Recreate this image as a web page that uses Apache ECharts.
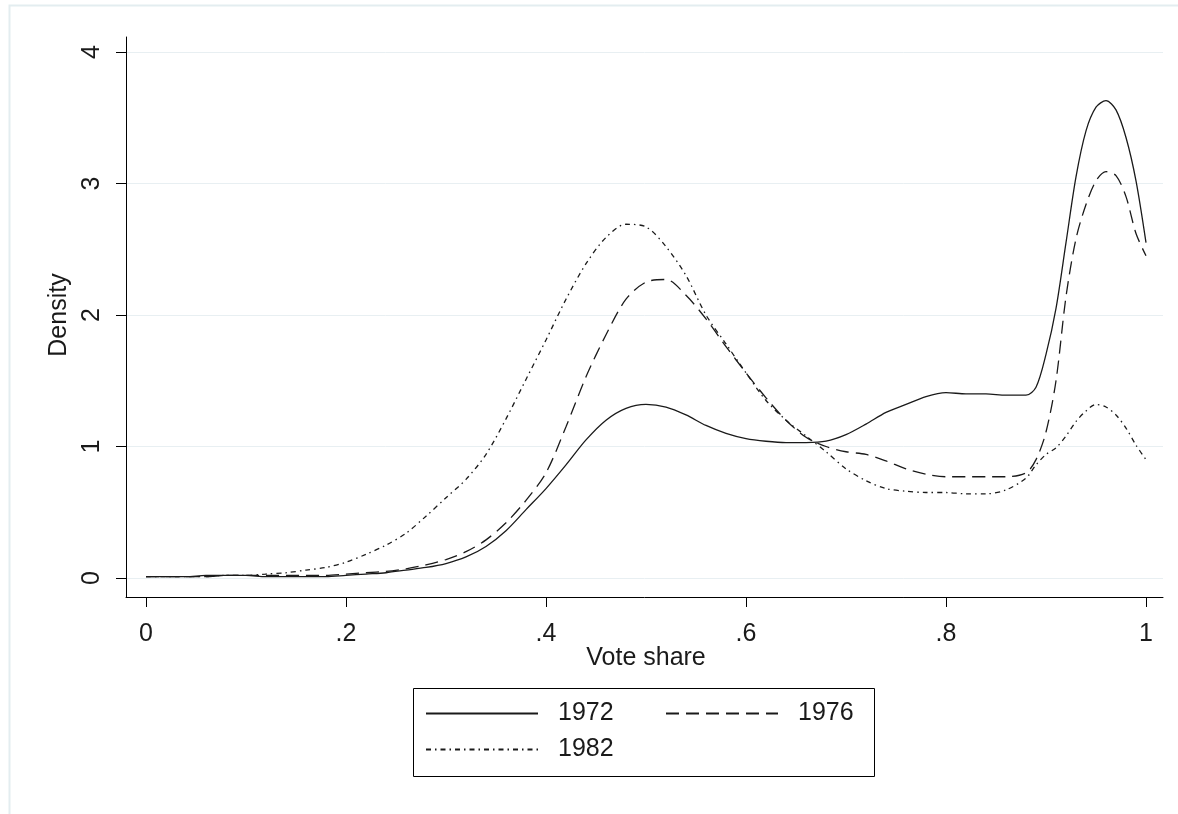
<!DOCTYPE html>
<html><head><meta charset="utf-8">
<script src="https://cdn.jsdelivr.net/npm/echarts@6/dist/echarts.min.js"></script>
<style>html,body{margin:0;padding:0;background:#fff}#c{width:1178px;height:814px}</style>
</head><body><div id="c"></div>
<script>
// Vote share grid (x values)
const xs = [0,0.02,0.04,0.06,0.08,0.10,0.12,0.14,0.16,0.18,
  0.20,0.22,0.24,0.26,0.28,0.30,0.32,0.34,0.36,0.38,
  0.40,0.42,0.44,0.46,0.48,0.50,0.52,0.54,0.56,0.58,
  0.60,0.62,0.64,0.66,0.68,0.70,0.72,0.74,0.76,0.78,
  0.80,0.82,0.84,0.86,0.88,
  0.89,0.90,0.91,0.92,0.93,0.94,0.95,0.96,0.97,0.98,0.99,1.00];

const d1972 = [0.01,0.01,0.01,0.02,0.02,0.02,0.01,0.01,0.01,0.01,
  0.02,0.03,0.04,0.06,0.08,0.11,0.16,0.24,0.36,0.52,
  0.68,0.86,1.05,1.20,1.29,1.32,1.30,1.24,1.16,1.10,
  1.06,1.04,1.03,1.03,1.04,1.09,1.17,1.26,1.32,1.38,
  1.41,1.40,1.40,1.39,1.39,
  1.45,1.70,2.05,2.55,3.05,3.40,3.58,3.63,3.56,3.35,3.02,2.55];

const d1976 = [0.01,0.01,0.01,0.01,0.02,0.02,0.02,0.02,0.02,0.02,
  0.03,0.04,0.05,0.07,0.10,0.14,0.20,0.29,0.42,0.59,
  0.80,1.15,1.53,1.85,2.12,2.25,2.27,2.15,1.97,1.76,
  1.56,1.37,1.20,1.07,1.00,0.96,0.94,0.89,0.83,0.79,
  0.77,0.77,0.77,0.77,0.80,
  0.90,1.11,1.50,2.14,2.58,2.84,3.02,3.09,3.06,2.90,2.62,2.45];

const d1982 = [0.01,0.01,0.01,0.01,0.02,0.02,0.03,0.04,0.06,0.08,
  0.12,0.18,0.25,0.34,0.47,0.61,0.75,0.94,1.21,1.51,
  1.81,2.12,2.39,2.59,2.69,2.67,2.52,2.30,2.00,1.78,
  1.56,1.35,1.20,1.08,0.96,0.83,0.74,0.68,0.66,0.65,
  0.65,0.64,0.64,0.67,0.76,
  0.86,0.94,0.99,1.08,1.19,1.27,1.32,1.30,1.24,1.14,1.01,0.90];

const seriesNames = ['1972','1976','1982'];
const xTickLabels = ['0','.2','.4','.6','.8','1'];
const yTickLabels = ['0','1','2','3','4'];

const FONT = "'Liberation Sans', Arial, sans-serif";
const INK = '#1a1a1a';
const GRIDC = '#e8eff2';

function pairs(ys){ return xs.map((x,i)=>[x, ys[i]]); }

const chart = echarts.init(document.getElementById('c'), null, {renderer:'canvas'});

const lineTypes = ['solid', [13,7], [5,4,1.5,4]];
const dataSets = [d1972, d1976, d1982];

const legendPos = [[425,701],[665,701],[425,737]];

chart.setOption({
  animation:false,
  backgroundColor:'#fff',
  textStyle:{fontFamily:FONT},
  grid:[
    {left:126, right:15, top:37, bottom:217},
    {left:146, right:32, top:37, bottom:217},
    {left:126, right:15, top:52, bottom:236}
  ],
  xAxis:[
    {gridIndex:0, type:'value', min:-0.02, max:1.017,
     axisLine:{show:true, onZero:false, lineStyle:{color:'#000', width:1}},
     axisTick:{show:false}, axisLabel:{show:false}, splitLine:{show:false}},
    {gridIndex:1, type:'value', min:0, max:1, interval:0.2,
     axisLine:{show:false, onZero:false},
     axisTick:{show:true, length:10, lineStyle:{color:'#000', width:1}},
     axisLabel:{show:true, margin:25, fontSize:25, color:INK, fontFamily:FONT,
       formatter:(v)=>xTickLabels[Math.round(v/0.2)]},
     splitLine:{show:false},
     name:'Vote share', nameLocation:'middle', nameGap:49, nameMoveOverlap:false,
     nameTextStyle:{fontSize:25, color:INK, fontFamily:FONT}},
    {gridIndex:2, type:'value', min:0, max:1, show:false}
  ],
  yAxis:[
    {gridIndex:0, type:'value', min:-0.1445, max:4.114,
     axisLine:{show:true, onZero:false, lineStyle:{color:'#000', width:1}},
     axisTick:{show:false}, axisLabel:{show:false}, splitLine:{show:false}},
    {gridIndex:1, type:'value', min:0, max:1, show:false},
    {gridIndex:2, type:'value', min:0, max:4, interval:1,
     axisLine:{show:false, onZero:false},
     axisTick:{show:true, length:10, lineStyle:{color:'#000', width:1}},
     axisLabel:{show:true, rotate:90, margin:21, fontSize:25, color:INK, fontFamily:FONT,
       formatter:(v)=>yTickLabels[Math.round(v)]},
     splitLine:{show:true, lineStyle:{color:GRIDC, width:1}},
     name:'Density', nameLocation:'middle', nameGap:54, nameMoveOverlap:false,
     nameTextStyle:{fontSize:25, color:INK, fontFamily:FONT}}
  ],
  legend: seriesNames.map((n,i)=>({
    data:[n], left:legendPos[i][0], top:legendPos[i][1],
    itemWidth:112, itemHeight:14, itemGap:0, padding:0,
    itemStyle:{opacity:0},
    textStyle:{fontSize:25, color:INK, fontFamily:FONT, padding:[0,0,0,15]},
    selectedMode:false
  })),
  graphic:[
    {type:'rect', shape:{x:9.5, y:5.5, width:1300, height:1000},
     style:{fill:null, stroke:'#e3edf0', lineWidth:2}, silent:true, z:-10},
    {type:'rect', shape:{x:413.5, y:688.5, width:461, height:88},
     style:{fill:null, stroke:'#000', lineWidth:1}, silent:true}
  ],
  series: seriesNames.map((n,i)=>({
    name:n, type:'line', xAxisIndex:0, yAxisIndex:0,
    data: pairs(dataSets[i]), symbol:'none', smooth:0.3,
    lineStyle:{color:INK, width:1.3, type:lineTypes[i]},
    itemStyle:{color:INK}
  }))
});
</script>
</body></html>
